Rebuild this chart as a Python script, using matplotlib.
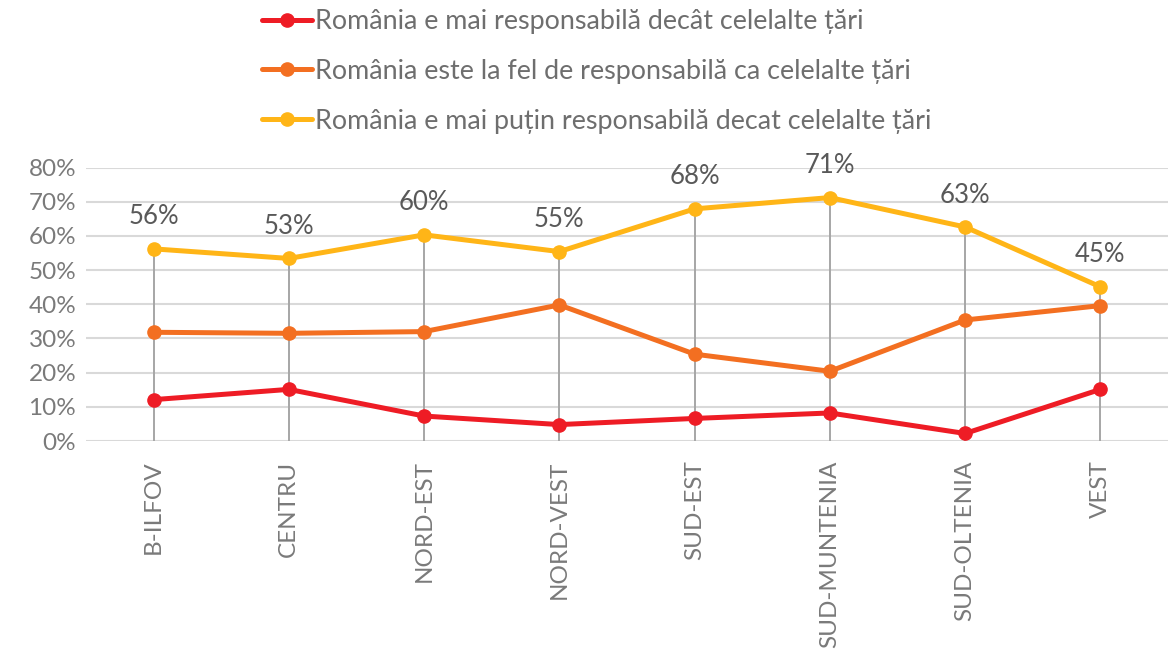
import matplotlib.pyplot as plt
from matplotlib.ticker import PercentFormatter

# regiuni si procente
regiuni = ['B-ILFOV', 'CENTRU', 'NORD-EST', 'NORD-VEST', 'SUD-EST', 'SUD-MUNTENIA', 'SUD-OLTENIA', 'VEST']
mai_responsabila = [12.1, 15.1, 7.3, 4.8, 6.6, 8.2, 2.2, 15.1]
la_fel = [31.8, 31.5, 32.0, 39.8, 25.4, 20.4, 35.4, 39.6]
mai_putin = [56.2, 53.4, 60.3, 55.4, 67.9, 71.2, 62.6, 45.1]

etichete = ['România e mai responsabilă decât celelalte țări',
            'România este la fel de responsabilă ca celelalte țări',
            'România e mai puțin responsabilă decat celelalte țări']
culori = ['#EE1C25', '#F36F21', '#FFB517']

plt.rcParams['font.family'] = ['Lato', 'DejaVu Sans']

fig = plt.figure(figsize=(11.68, 6.5), dpi=100)
ax = fig.add_axes([86 / 1168, 1 - 441 / 650, 1 - 86 / 1168, (441 - 167.5) / 650])

x = list(range(len(regiuni)))

# grila orizontala
for v in range(0, 81, 10):
    ax.axhline(v, color='#D9D9D9', lw=1.5, zorder=0)

# linii verticale pana la cel mai mare punct
varfuri = [max(a, b, c) for a, b, c in zip(mai_responsabila, la_fel, mai_putin)]
ax.vlines(x, 0, varfuri, color='#A6A6A6', lw=1.4, zorder=1)

for serie, culoare, eticheta in zip([mai_responsabila, la_fel, mai_putin], culori, etichete):
    ax.plot(x, serie, color=culoare, lw=3.6, marker='o', markersize=9.5,
            label=eticheta, zorder=3, solid_capstyle='round')

for xi, v in zip(x, mai_putin):
    ax.annotate(f'{round(v)}%', (xi, v), xytext=(0, 23), textcoords='offset points',
                ha='center', va='center', fontsize=18.5, color='#595959')

ax.set_xlim(-0.5, len(regiuni) - 0.5)
ax.set_ylim(0, 80)
ax.set_yticks(range(0, 81, 10))
ax.yaxis.set_major_formatter(PercentFormatter(decimals=0))
ax.set_xticks(x)
ax.set_xticklabels(regiuni, rotation=90, va='top', ha='center')
ax.tick_params(axis='both', length=0, labelsize=17.5, labelcolor='#7A7A7A')
ax.tick_params(axis='x', pad=14)
ax.tick_params(axis='y', pad=7)
for s in ax.spines.values():
    s.set_visible(False)

fig.legend(loc='upper left', bbox_to_anchor=(262 / 1168, 1 - 9 / 650), frameon=False,
           fontsize=19.4, labelcolor='#6E6E6E', handlelength=1.85, handletextpad=0.1,
           labelspacing=0.92, borderpad=0, borderaxespad=0)

fig.savefig('out.png', dpi=100)
